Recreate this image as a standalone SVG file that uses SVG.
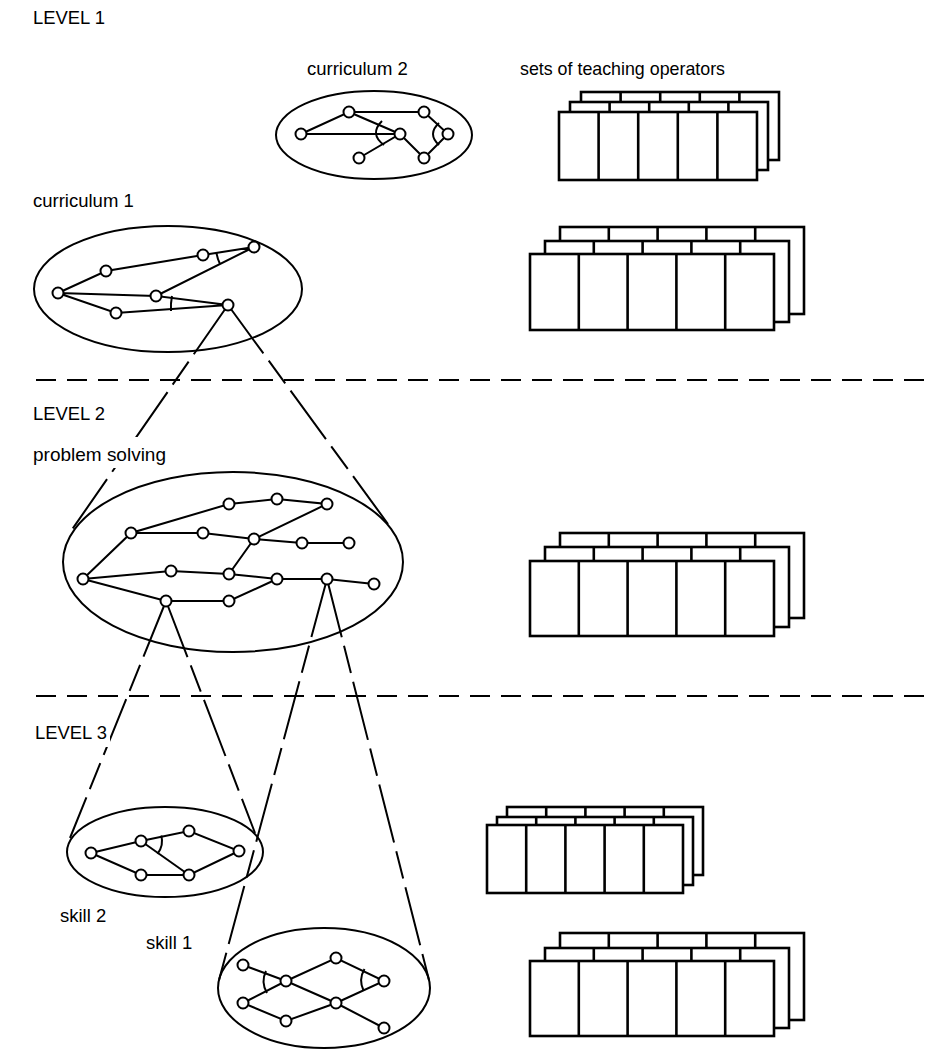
<svg xmlns="http://www.w3.org/2000/svg" width="932" height="1053" viewBox="0 0 932 1053">
<defs>
<style>
.lbl{font-family:"Liberation Sans",Arial,sans-serif;font-size:18.5px;fill:#000}
.sep{stroke:#000;stroke-width:2;stroke-dasharray:20 11;fill:none}
.con{stroke:#000;stroke-width:2;stroke-dasharray:60 9 28 9;fill:none}
.ell{stroke:#000;stroke-width:2;fill:none}
.edge{stroke:#000;stroke-width:2;fill:none}
.arc{stroke:#000;stroke-width:2;fill:none}
.nd{stroke:#000;stroke-width:2;fill:#fff}
.lay{stroke:#000;stroke-width:2.6;fill:#fff}
.col{stroke:#000;stroke-width:2.6}
</style>
</defs>
<rect width="932" height="1053" fill="#fff"/>

<g id="separators">
<line class="sep" x1="36" y1="380" x2="932" y2="380"/>
<line class="sep" x1="36" y1="696" x2="932" y2="696"/>
</g>

<g id="connectors">
<line class="con" x1="228" y1="305" x2="71" y2="531"/>
<line class="con" x1="228" y1="305" x2="388" y2="524"/>
<line class="con" x1="166" y1="601" x2="70" y2="838"/>
<line class="con" x1="166" y1="601" x2="255" y2="833"/>
<line class="con" x1="327" y1="579" x2="219" y2="980"/>
<line class="con" x1="327" y1="579" x2="429" y2="980"/>
</g>

<g id="curriculum2">
<ellipse class="ell" cx="374" cy="135" rx="98" ry="44"/>
<polyline class="edge" points="301,134 349,112 424,112 448,134 424,158 400,134 359,158"/>
<line class="edge" x1="301" y1="134" x2="400" y2="134"/>
<line class="edge" x1="349" y1="112" x2="400" y2="134"/>
<path class="arc" d="M382,121 Q369,134 384,145"/>
<path class="arc" d="M439,123 Q427,134 439,145"/>
<circle class="nd" cx="301" cy="134" r="5.5"/>
<circle class="nd" cx="349" cy="112" r="5.5"/>
<circle class="nd" cx="424" cy="112" r="5.5"/>
<circle class="nd" cx="400" cy="134" r="5.5"/>
<circle class="nd" cx="448" cy="134" r="5.5"/>
<circle class="nd" cx="359" cy="158" r="5.5"/>
<circle class="nd" cx="424" cy="158" r="5.5"/>
</g>

<g id="curriculum1">
<ellipse class="ell" cx="168" cy="289" rx="134" ry="63"/>
<polyline class="edge" points="58,293 106,271 203,255 254,247 156,296 228,305 116,313 58,293 156,296"/>
<path class="arc" d="M216.5,253 A38,38 0 0,0 220,264"/>
<path class="arc" d="M172,296 A58,58 0 0,0 171,311"/>
<circle class="nd" cx="58" cy="293" r="5.5"/>
<circle class="nd" cx="106" cy="271" r="5.5"/>
<circle class="nd" cx="203" cy="255" r="5.5"/>
<circle class="nd" cx="254" cy="247" r="5.5"/>
<circle class="nd" cx="156" cy="296" r="5.5"/>
<circle class="nd" cx="116" cy="313" r="5.5"/>
<circle class="nd" cx="228" cy="305" r="5.5"/>
</g>

<g id="problem-solving">
<ellipse class="ell" cx="233" cy="562" rx="170" ry="90"/>
<polyline class="edge" points="83,579 131,533 229,504 277,499 327,504 254,539 229,574"/>
<polyline class="edge" points="131,533 203,533 254,539 302,543 349,543"/>
<polyline class="edge" points="83,579 171,571 229,574 277,579 327,579 374,584"/>
<polyline class="edge" points="83,579 166,601 229,601 277,579"/>
<circle class="nd" cx="83" cy="579" r="5.5"/>
<circle class="nd" cx="131" cy="533" r="5.5"/>
<circle class="nd" cx="229" cy="504" r="5.5"/>
<circle class="nd" cx="277" cy="499" r="5.5"/>
<circle class="nd" cx="327" cy="504" r="5.5"/>
<circle class="nd" cx="203" cy="533" r="5.5"/>
<circle class="nd" cx="254" cy="539" r="5.5"/>
<circle class="nd" cx="302" cy="543" r="5.5"/>
<circle class="nd" cx="349" cy="543" r="5.5"/>
<circle class="nd" cx="171" cy="571" r="5.5"/>
<circle class="nd" cx="229" cy="574" r="5.5"/>
<circle class="nd" cx="277" cy="579" r="5.5"/>
<circle class="nd" cx="327" cy="579" r="5.5"/>
<circle class="nd" cx="374" cy="584" r="5.5"/>
<circle class="nd" cx="166" cy="601" r="5.5"/>
<circle class="nd" cx="229" cy="601" r="5.5"/>
</g>

<g id="skill2">
<ellipse class="ell" cx="165" cy="852" rx="98" ry="45"/>
<polyline class="edge" points="91,853 141,841 189,831 239,851 189,875 141,875 91,853"/>
<line class="edge" x1="141" y1="841" x2="189" y2="875"/>
<path class="arc" d="M161.3,835.6 A21,21 0 0,1 157.5,853.9"/>
<circle class="nd" cx="91" cy="853" r="5.5"/>
<circle class="nd" cx="141" cy="841" r="5.5"/>
<circle class="nd" cx="189" cy="831" r="5.5"/>
<circle class="nd" cx="239" cy="851" r="5.5"/>
<circle class="nd" cx="141" cy="875" r="5.5"/>
<circle class="nd" cx="189" cy="875" r="5.5"/>
</g>

<g id="skill1">
<ellipse class="ell" cx="324" cy="988" rx="106" ry="60"/>
<polyline class="edge" points="243,965 286,981 336,1003 384,1028"/>
<polyline class="edge" points="243,1003 286,981 336,958 384,981 336,1003 286,1021 243,1003"/>
<path class="arc" d="M266,971 A23,23 0 0,0 267,993"/>
<path class="arc" d="M364.5,969 A23,23 0 0,0 363.5,990.5"/>
<circle class="nd" cx="243" cy="965" r="5.5"/>
<circle class="nd" cx="286" cy="981" r="5.5"/>
<circle class="nd" cx="336" cy="958" r="5.5"/>
<circle class="nd" cx="384" cy="981" r="5.5"/>
<circle class="nd" cx="243" cy="1003" r="5.5"/>
<circle class="nd" cx="286" cy="1021" r="5.5"/>
<circle class="nd" cx="336" cy="1003" r="5.5"/>
<circle class="nd" cx="384" cy="1028" r="5.5"/>
</g>

<g id="labels">
<rect x="31" y="437" width="138" height="31" fill="#fff"/>
<rect x="32" y="721" width="78" height="26" fill="#fff"/>
<text class="lbl" x="33" y="24" textLength="72" lengthAdjust="spacingAndGlyphs">LEVEL 1</text>
<text class="lbl" x="307" y="75">curriculum 2</text>
<text class="lbl" x="520" y="75" textLength="205" lengthAdjust="spacingAndGlyphs">sets of teaching operators</text>
<text class="lbl" x="33" y="207">curriculum 1</text>
<text class="lbl" x="33" y="420" textLength="72" lengthAdjust="spacingAndGlyphs">LEVEL 2</text>
<text class="lbl" x="33" y="461" textLength="133" lengthAdjust="spacingAndGlyphs">problem solving</text>
<text class="lbl" x="35" y="739" textLength="72" lengthAdjust="spacingAndGlyphs">LEVEL 3</text>
<text class="lbl" x="60" y="922">skill 2</text>
<text class="lbl" x="146" y="949">skill 1</text>
</g>

<g id="ops-curriculum2">
<rect class="lay" x="581" y="92" width="198" height="68"/>
<path class="col" d="M620.6,92V160M660.2,92V160M699.8,92V160M739.4,92V160"/>
<rect class="lay" x="570" y="102" width="198" height="68"/>
<path class="col" d="M609.6,102V170M649.2,102V170M688.8,102V170M728.4,102V170"/>
<rect class="lay" x="559" y="112" width="198" height="68"/>
<path class="col" d="M598.6,112V180M638.2,112V180M677.8,112V180M717.4,112V180"/>
</g>

<g id="ops-curriculum1">
<rect class="lay" x="560" y="227" width="244" height="87"/>
<path class="col" d="M608.8,227V314M657.6,227V314M706.4,227V314M755.2,227V314"/>
<rect class="lay" x="545" y="241" width="244" height="81"/>
<path class="col" d="M593.8,241V322M642.6,241V322M691.4,241V322M740.2,241V322"/>
<rect class="lay" x="530" y="254" width="244" height="76"/>
<path class="col" d="M578.8,254V330M627.6,254V330M676.4,254V330M725.2,254V330"/>
</g>

<g id="ops-problem-solving">
<rect class="lay" x="560" y="533" width="244" height="85"/>
<path class="col" d="M608.8,533V618M657.6,533V618M706.4,533V618M755.2,533V618"/>
<rect class="lay" x="545" y="547" width="244" height="80"/>
<path class="col" d="M593.8,547V627M642.6,547V627M691.4,547V627M740.2,547V627"/>
<rect class="lay" x="530" y="561" width="244" height="75"/>
<path class="col" d="M578.8,561V636M627.6,561V636M676.4,561V636M725.2,561V636"/>
</g>

<g id="ops-skill2">
<rect class="lay" x="507" y="807" width="196" height="68"/>
<path class="col" d="M546.2,807V875M585.4,807V875M624.6,807V875M663.8,807V875"/>
<rect class="lay" x="497" y="817" width="196" height="68"/>
<path class="col" d="M536.2,817V885M575.4,817V885M614.6,817V885M653.8,817V885"/>
<rect class="lay" x="487" y="825" width="196" height="68"/>
<path class="col" d="M526.2,825V893M565.4,825V893M604.6,825V893M643.8,825V893"/>
</g>

<g id="ops-skill1">
<rect class="lay" x="560" y="933" width="244" height="87"/>
<path class="col" d="M608.8,933V1020M657.6,933V1020M706.4,933V1020M755.2,933V1020"/>
<rect class="lay" x="545" y="948" width="244" height="80"/>
<path class="col" d="M593.8,948V1028M642.6,948V1028M691.4,948V1028M740.2,948V1028"/>
<rect class="lay" x="530" y="961" width="244" height="75"/>
<path class="col" d="M578.8,961V1036M627.6,961V1036M676.4,961V1036M725.2,961V1036"/>
</g>
</svg>
